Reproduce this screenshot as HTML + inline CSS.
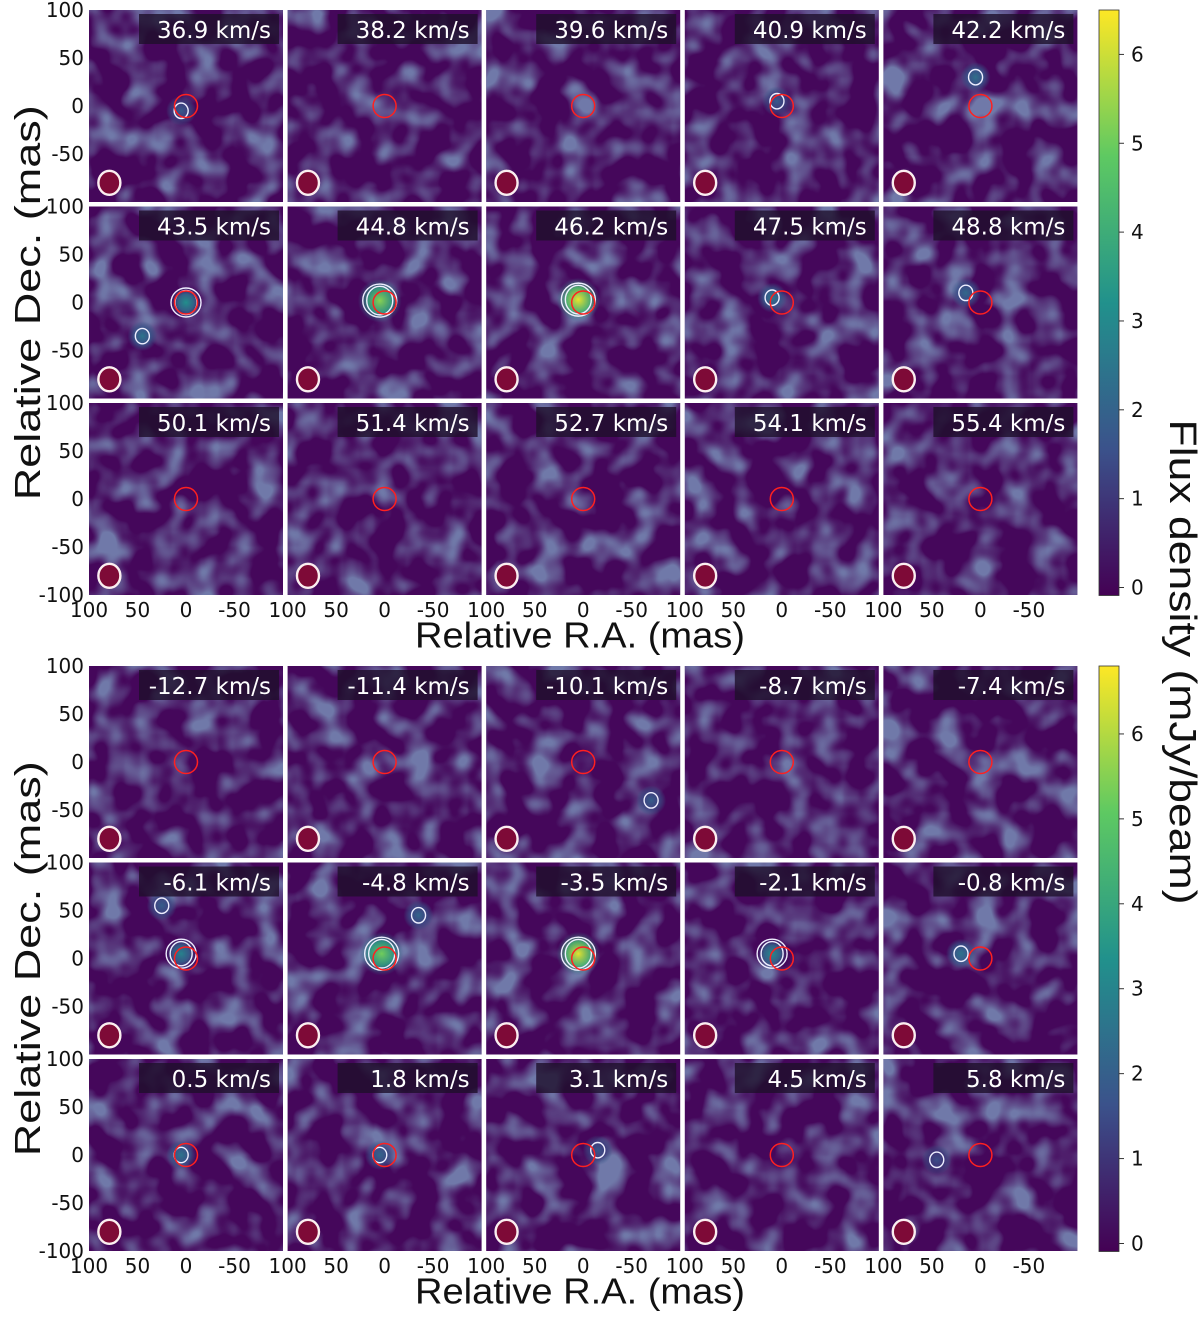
<!DOCTYPE html>
<html><head><meta charset="utf-8">
<style>
body{margin:0;background:#fff;width:1200px;height:1315px;overflow:hidden;font-family:"DejaVu Sans","Liberation Sans",sans-serif}
svg text{font-family:"DejaVu Sans","Liberation Sans",sans-serif}
svg text.title{font-family:"Liberation Sans",sans-serif}
</style></head>
<body>
<svg id="fig" width="1200" height="1315" viewBox="0 0 1200 1315" xmlns="http://www.w3.org/2000/svg">
<defs></defs>
</svg>
<script>
// ---- data ----
const velTop = ["36.9","38.2","39.6","40.9","42.2","43.5","44.8","46.2","47.5","48.8","50.1","51.4","52.7","54.1","55.4"];
const velBot = ["-12.7","-11.4","-10.1","-8.7","-7.4","-6.1","-4.8","-3.5","-2.1","-0.8","0.5","1.8","3.1","4.5","5.8"];
// emission peaks [channel, RA mas, Dec mas, flux mJy/beam]
const peaksTop = [[0,5,-5,1.8],[3,5,5,1.8],[4,5,30,2.4],[5,0,0,3.2],[5,45,-35,2.5],[6,5,2,5.3],[7,5,3,6.3],[8,10,5,2.6],[9,15,10,2.2]];
const peaksBot = [[2,-70,-40,2.0],[5,5,5,3.0],[5,25,55,2.0],[6,3,5,5.3],[6,-35,45,2.2],[7,5,5,6.5],[8,10,5,3.2],[9,20,5,2.6],[10,5,0,2.6],[11,5,0,2.2],[12,-15,5,1.8],[14,45,-5,1.6]];
const cbTicks = [0,1,2,3,4,5,6];
const xTicks = [100,50,0,-50];
const yTicks = [100,50,0,-50,-100];

const svg = document.getElementById('fig');
const defs = svg.querySelector('defs');
const NS = 'http://www.w3.org/2000/svg';
function mk(tag, attrs, parent){const e=document.createElementNS(NS,tag);for(const k in attrs)e.setAttribute(k,attrs[k]);(parent||svg).appendChild(e);return e;}
const stops=[[0,[68,1,84]],[0.25,[59,82,139]],[0.5,[33,145,140]],[0.75,[94,201,98]],[1,[253,231,37]]];
function viridis(t){t=Math.max(0,Math.min(1,t));for(let i=1;i<stops.length;i++){if(t<=stops[i][0]){const a=stops[i-1],b=stops[i];const f=(t-a[0])/(b[0]-a[0]);return 'rgb('+a[1].map((v,j)=>Math.round(v+(b[1][j]-v)*f)).join(',')+')';}}return 'rgb(253,231,37)';}

const colX0=89, colW=198.6, pw=194, rowH=196.5, ph=192;
function block(top, vels, peaks, vmax, seedBase, bIdx){
 const g=mk('g',{});
 
 
 vels.forEach((v,i)=>{
  const c=i%5, r=Math.floor(i/5);
  const x=colX0+c*colW, y=top+r*rowH;
  const sx=m=>x+pw/2-m*pw/200, sy=m=>y+ph/2-m*ph/200;
  const p=mk('g',{},g);
  
  
  mk('rect',{x:x,y:y,width:pw,height:ph,fill:'#45075b'},p);
  const fid='n'+bIdx+'_'+i;
  const f=mk('filter',{id:fid,x:0,y:0,width:'100%',height:'100%'},defs);
  mk('feTurbulence',{type:'fractalNoise',baseFrequency:'0.032',numOctaves:'2',seed:String(seedBase+i*7),result:'t'},f);
  mk('feColorMatrix',{in:'t',type:'matrix',values:'0 0 0 0 0.22  0 0 0 0 0.38  0 0 0 0 0.57  0 0 0 3.2 -1.4'},f);
  mk('feComposite',{operator:'in',in2:'SourceGraphic'},f);
  mk('rect',{x:x,y:y,width:pw,height:ph,fill:'#fff',filter:'url(#'+fid+')',opacity:0.72},p);
  peaks.filter(q=>q[0]===i).forEach((q,k)=>{
   const cx=sx(q[1]), cy=sy(q[2]), t=q[3]/vmax;
   const gid='pk'+bIdx+'_'+i+'_'+k;
   const rg=mk('radialGradient',{id:gid},defs);
   mk('stop',{offset:0,'stop-color':viridis(t)},rg);
   mk('stop',{offset:0.55,'stop-color':viridis(t*0.7),'stop-opacity':0.9},rg);
   mk('stop',{offset:1,'stop-color':viridis(0.3),'stop-opacity':0},rg);
   const rad=t>0.6?22:15;
   const bl=mk('circle',{cx:cx,cy:cy,r:rad,fill:'url(#'+gid+')'},p);
   
   
   const cr=t>0.6?13:(t>0.4?11:7);
   mk('ellipse',{cx:cx,cy:cy,rx:cr,ry:cr*1.1,fill:'none',stroke:'#eef','stroke-width':1.4},p);
   if(t>0.4) mk('ellipse',{cx:cx,cy:cy,rx:cr+4,ry:cr+3.5,fill:'none',stroke:'#eef','stroke-width':1.4},p);
  });
  const rc=mk('circle',{cx:sx(0),cy:sy(0),r:11.5,fill:'none',stroke:'#ff2020','stroke-width':1.5},p);
  
  
  const be=mk('ellipse',{cx:sx(79),cy:sy(-80),rx:11,ry:12,fill:'#7e0a37',stroke:'#fbeef0','stroke-width':2.4},p);
  
  
  const lb=mk('rect',{x:x+50,y:y+4,width:140,height:30,fill:'#1e0f2a',opacity:0.8},p);
  
  
  const tx=mk('text',{x:x+182,y:y+28,'text-anchor':'end','font-size':23,fill:'#fff'},p);
  tx.textContent=v+' km/s';
  
  
  if(c===0){
   yTicks.forEach(tv=>{
    if(r<2 && tv===-100) return;
    const t=mk('text',{x:x-5,y:sy(tv)+7,'text-anchor':'end','font-size':20,fill:'#111'},g);
    t.textContent=String(tv);
    
    
   });
  }
  if(r===2){
   xTicks.forEach(tv=>{
    const t=mk('text',{x:sx(tv),y:y+ph+22,'text-anchor':'middle','font-size':20,fill:'#111'},g);
    t.textContent=String(tv);
    
    
   });
  }
 });
 const blockH=3*rowH-4;
 const yl=mk('text',{class:'title',transform:'translate(40,'+(top+blockH/2)+') rotate(-90)','text-anchor':'middle','font-size':36,fill:'#111',textLength:395,lengthAdjust:'spacingAndGlyphs'},g);
 yl.textContent='Relative Dec. (mas)';
 
 
 const xl=mk('text',{class:'title',x:580,y:top+blockH+52,'text-anchor':'middle','font-size':36,fill:'#111',textLength:330,lengthAdjust:'spacingAndGlyphs'},g);
 xl.textContent='Relative R.A. (mas)';
 
 
 // colorbar
 const cbx=1099, cbw=20, cbTop=top, cbBot=top+blockH;
 const gid='cb'+bIdx;
 const lg=mk('linearGradient',{id:gid,x1:0,y1:1,x2:0,y2:0},defs);
 stops.forEach(s=>mk('stop',{offset:s[0],'stop-color':'rgb('+s[1].join(',')+')'},lg));
 const cb=mk('rect',{x:cbx,y:cbTop,width:cbw,height:cbBot-cbTop,fill:'url(#'+gid+')',stroke:'#333','stroke-width':0.8},g);
 
 
 const cy=val=>cbBot-8-(cbBot-8-cbTop)*val/vmax;
 cbTicks.forEach(tv=>{
  mk('line',{x1:cbx+cbw,x2:cbx+cbw+5,y1:cy(tv),y2:cy(tv),stroke:'#333'},g);
  const t=mk('text',{x:cbx+cbw+12,y:cy(tv)+7,'font-size':20,fill:'#111'},g);
  t.textContent=String(tv);
  
  
 });
}
block(10, velTop, peaksTop, 6.5, 3, 1);
block(666, velBot, peaksBot, 6.8, 101, 2);
const ft=mk('text',{class:'title',transform:'translate(1170,662) rotate(90)','text-anchor':'middle','font-size':38,fill:'#111',textLength:485,lengthAdjust:'spacingAndGlyphs'});
ft.textContent='Flux density (mJy/beam)';


</script>
</body></html>
